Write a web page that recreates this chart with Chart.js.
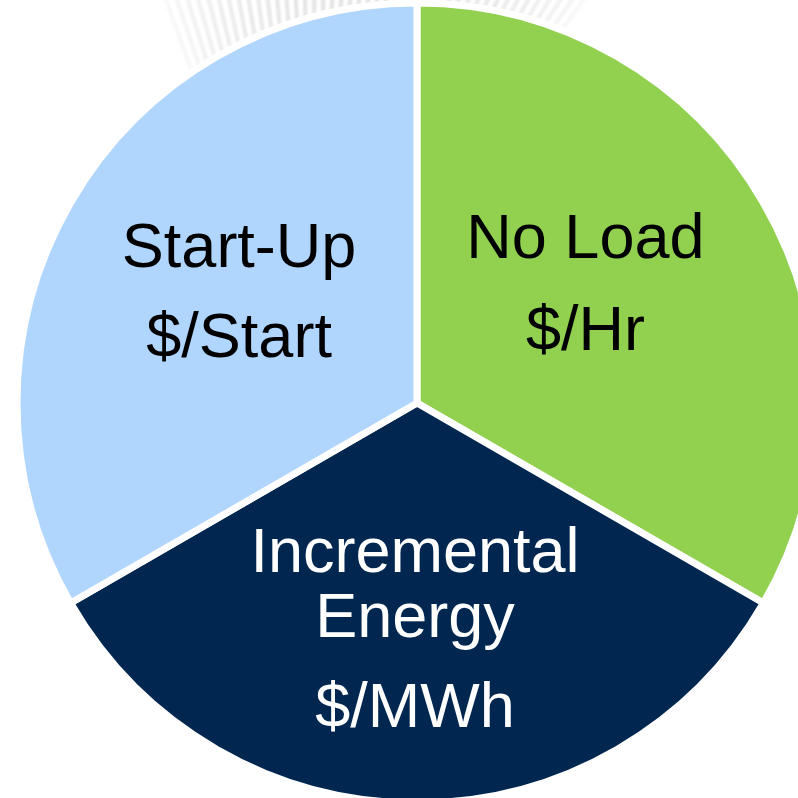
<!DOCTYPE html>
<html>
<head>
<meta charset="utf-8">
<script src="https://cdn.jsdelivr.net/npm/chart.js@4.4.1/dist/chart.umd.min.js"></script>
<style>
  html, body { margin: 0; padding: 0; background: #ffffff; overflow: hidden; width: 798px; height: 798px; }
  #wrap { position: absolute; left: 0; top: 0; width: 834px; height: 806px; }
</style>
</head>
<body>
<div id="wrap"><canvas id="c" width="834" height="806"></canvas></div>
<script>
// Data (clockwise from 12 o'clock)
const categories = ['No Load', 'Incremental Energy', 'Start-Up'];
const shares = [1, 1, 1];
const labelLines = [
  ['No Load', '$/Hr'],
  ['Incremental', 'Energy', '$/MWh'],
  ['Start-Up', '$/Start']
];
const sliceColors = ['#92d050', '#01264f', '#b0d6fe'];
const textColors = ['#000000', '#ffffff', '#000000'];

// faint decorative fan of radial strokes behind the top of the pie
const backdrop = {
  id: 'backdrop',
  beforeDatasetsDraw(chart, args, opts) {
    const meta = chart.getDatasetMeta(0);
    if (!meta.data.length) return;
    const p = meta.data[0].getProps(['x', 'y']);
    const R = opts.radius;
    const ctx = chart.ctx;
    ctx.save();
    ctx.lineCap = 'butt';
    ctx.filter = 'blur(0.8px)';
    const a0 = opts.from * Math.PI / 180, a1 = opts.to * Math.PI / 180;
    const n = Math.round((opts.to - opts.from) / opts.step);
    for (let k = 0; k <= n; k++) {
      const t = k / n;
      const a = a0 + (a1 - a0) * t;
      const alpha = opts.alpha * Math.pow(Math.sin(Math.PI * t), 0.5);
      ctx.strokeStyle = 'rgba(150,150,150,' + alpha.toFixed(3) + ')';
      ctx.lineWidth = opts.width;
      ctx.beginPath();
      ctx.moveTo(p.x + Math.cos(a) * (R - 10), p.y + Math.sin(a) * (R - 10));
      ctx.lineTo(p.x + Math.cos(a + 0.05) * (R + 80), p.y + Math.sin(a + 0.05) * (R + 80));
      ctx.stroke();
    }
    ctx.restore();
  }
};

const sliceLabels = {
  id: 'sliceLabels',
  afterDatasetsDraw(chart, args, opts) {
    const ctx = chart.ctx;
    const meta = chart.getDatasetMeta(0);
    ctx.save();
    ctx.font = opts.font;
    ctx.textAlign = 'center';
    ctx.textBaseline = 'alphabetic';
    meta.data.forEach((arc, i) => {
      const p = arc.getProps(['x', 'y', 'startAngle', 'endAngle']);
      const mid = (p.startAngle + p.endAngle) / 2;
      const r = opts.radius * opts.fraction;
      const ax = p.x + Math.cos(mid) * r + opts.nudgeX[i];
      const ay = p.y + Math.sin(mid) * r;
      ctx.fillStyle = opts.colors[i];
      labelLines[i].forEach((line, j) => {
        ctx.fillText(line, ax, ay + opts.baselines[i][j]);
      });
    });
    ctx.restore();
  }
};

new Chart(document.getElementById('c'), {
  type: 'pie',
  data: {
    labels: categories,
    datasets: [{
      data: shares,
      backgroundColor: sliceColors,
      borderColor: '#ffffff',
      borderWidth: 7,
      hoverBorderWidth: 7,
      hoverOffset: 0
    }]
  },
  options: {
    responsive: false,
    animation: false,
    radius: 400,
    layout: { padding: 0 },
    events: [],
    plugins: {
      legend: { display: false },
      tooltip: { enabled: false },
      backdrop: { radius: 397, from: -126, to: -68, step: 1.3, alpha: 0.28, width: 4 },
      sliceLabels: {
        font: '63px "Liberation Sans", Arial, sans-serif',
        colors: textColors,
        radius: 397,
        fraction: 0.5,
        nudgeX: [-3.5, -2, -6],
        baselines: [[-46, 46], [-29.5, 35.5, 125.5], [-37, 53]]
      }
    }
  },
  plugins: [backdrop, sliceLabels]
});
</script>
</body>
</html>
